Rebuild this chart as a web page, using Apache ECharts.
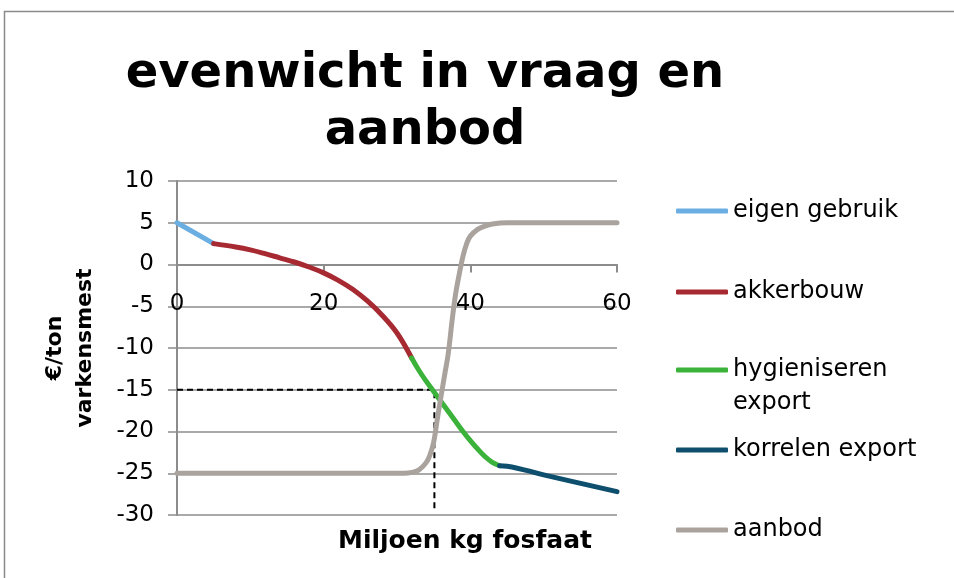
<!DOCTYPE html>
<html>
<head>
<meta charset="utf-8">
<script src="https://cdn.jsdelivr.net/npm/echarts@6/dist/echarts.min.js"></script>
<style>
  html, body { margin: 0; padding: 0; background: #fff; }
  #chart { width: 954px; height: 578px; }
</style>
</head>
<body>
<div id="chart"></div>
<script>
// vraag (demand) segments, [x, y] = [miljoen kg fosfaat, euro/ton]
var eigenGebruik = [[0, 5], [5, 2.5]];
var akkerbouw = [[5, 2.5], [8, 2.1], [10, 1.75], [12, 1.3], [14, 0.8], [16, 0.3], [18, -0.3],
  [20, -1.0], [22, -1.9], [24, -3.0], [26, -4.4], [28, -6.1], [30, -8.2], [32, -11.2]];
var hygieniseren = [[32, -11.2], [33, -12.7], [34, -14], [35, -15.2], [36, -16.4], [37, -17.6],
  [38, -18.8], [39, -20], [40, -21.1], [41, -22.1], [42, -23], [43, -23.7], [44, -24.1]];
var korrelen = [[44, -24.1], [45, -24.15], [50, -25.2], [60, -27.2]];
// aanbod (supply)
var aanbod = [[0, -25], [31, -25], [32, -24.9], [33, -24.6], [34, -23.7], [34.5, -22.8], [35, -21.3],
  [35.5, -18.5], [36, -15.8], [36.5, -13.2], [37, -10.6], [37.5, -6.8], [38, -3.5], [38.5, -1.1],
  [39, 1], [39.5, 2.5], [40, 3.4], [41, 4.2], [42, 4.6], [43, 4.85], [45, 5], [60, 5]];
// evenwicht hulplijnen
var evenwicht = [[0, -15], [35.1, -15], [35.1, -29.6]];

var names = ['eigen gebruik', 'akkerbouw', 'hygieniseren export', 'korrelen export', 'aanbod'];
var colors = ['#6aaee2', '#a72a33', '#3bb23a', '#0e4f6e', '#aaa39d'];
var legendTops = [211, 292, 370, 450, 530];

var chart = echarts.init(document.getElementById('chart'));
var font = 'DejaVu Sans';

function lineSeries(name, data, color) {
  return {
    name: name,
    type: 'line',
    data: data,
    symbol: 'none',
    smooth: 0.4,
    lineStyle: { color: color, width: 5, cap: 'round', join: 'round' },
    itemStyle: { color: color }
  };
}

var legends = names.map(function (n, i) {
  var two = n === 'hygieniseren export';
  return {
    data: [n],
    orient: 'vertical',
    left: 676,
    top: two ? legendTops[i] - 49.5 : legendTops[i] - 14,
    padding: 0,
    selectedMode: false,
    icon: 'roundRect',
    itemWidth: 52,
    itemHeight: 5,
    // empty first line keeps the icon level with "hygieniseren"
    formatter: two ? function () { return ' \nhygieniseren\nexport'; } : '{name}',
    textStyle: { fontFamily: font, fontSize: 24, color: '#000', lineHeight: two ? 33 : 28 }
  };
});

var option = {
  animation: false,
  title: {
    text: 'evenwicht in vraag en\naanbod',
    left: 420,
    top: 41,
    textAlign: 'center',
    textStyle: { fontFamily: font, fontSize: 48, fontWeight: 'bold', color: '#000', lineHeight: 57 }
  },
  legend: legends,
  grid: { left: 177, top: 181, width: 440, height: 334 },
  xAxis: {
    type: 'value',
    min: 0,
    max: 60,
    interval: 20,
    offset: -250.5,
    axisLine: { onZero: false, lineStyle: { color: '#8c8c8c', width: 2 } },
    axisTick: { show: true, length: 8, lineStyle: { color: '#8c8c8c', width: 2 } },
    axisLabel: { fontFamily: font, fontSize: 23, color: '#000', margin: 28 },
    splitLine: { show: false }
  },
  yAxis: {
    type: 'value',
    min: -30,
    max: 10,
    interval: 5,
    name: '€/ton\nvarkensmest',
    nameLocation: 'middle',
    nameRotate: 90,
    nameGap: 77,
    nameTextStyle: { fontFamily: font, fontSize: 22, fontWeight: 'bold', color: '#000', lineHeight: 30 },
    axisLine: { show: true, lineStyle: { color: '#8c8c8c', width: 2 } },
    axisTick: { show: true, length: 9, lineStyle: { color: '#8c8c8c', width: 1.5 } },
    axisLabel: { fontFamily: font, fontSize: 23, color: '#000', margin: 23 },
    splitLine: { show: true, lineStyle: { color: '#8c8c8c', width: 1.5 } }
  },
  graphic: [
    {
      type: 'rect',
      shape: { x: 4.5, y: 11.5, width: 1000, height: 1000 },
      style: { fill: 'none', stroke: '#8a8a8a', lineWidth: 1.5 },
      silent: true
    },
    {
      type: 'text',
      x: 465,
      y: 541,
      style: {
        text: 'Miljoen kg fosfaat',
        font: 'bold 25px "DejaVu Sans"',
        fill: '#000',
        align: 'center',
        verticalAlign: 'middle'
      }
    }
  ],
  series: [
    {
      name: 'evenwicht',
      type: 'line',
      data: evenwicht,
      symbol: 'none',
      lineStyle: { color: '#000', width: 2, type: [6, 4] },
      z: 1
    },
    lineSeries(names[0], eigenGebruik, colors[0]),
    lineSeries(names[1], akkerbouw, colors[1]),
    lineSeries(names[2], hygieniseren, colors[2]),
    lineSeries(names[3], korrelen, colors[3]),
    lineSeries(names[4], aanbod, colors[4])
  ]
};

chart.setOption(option);
</script>
</body>
</html>
